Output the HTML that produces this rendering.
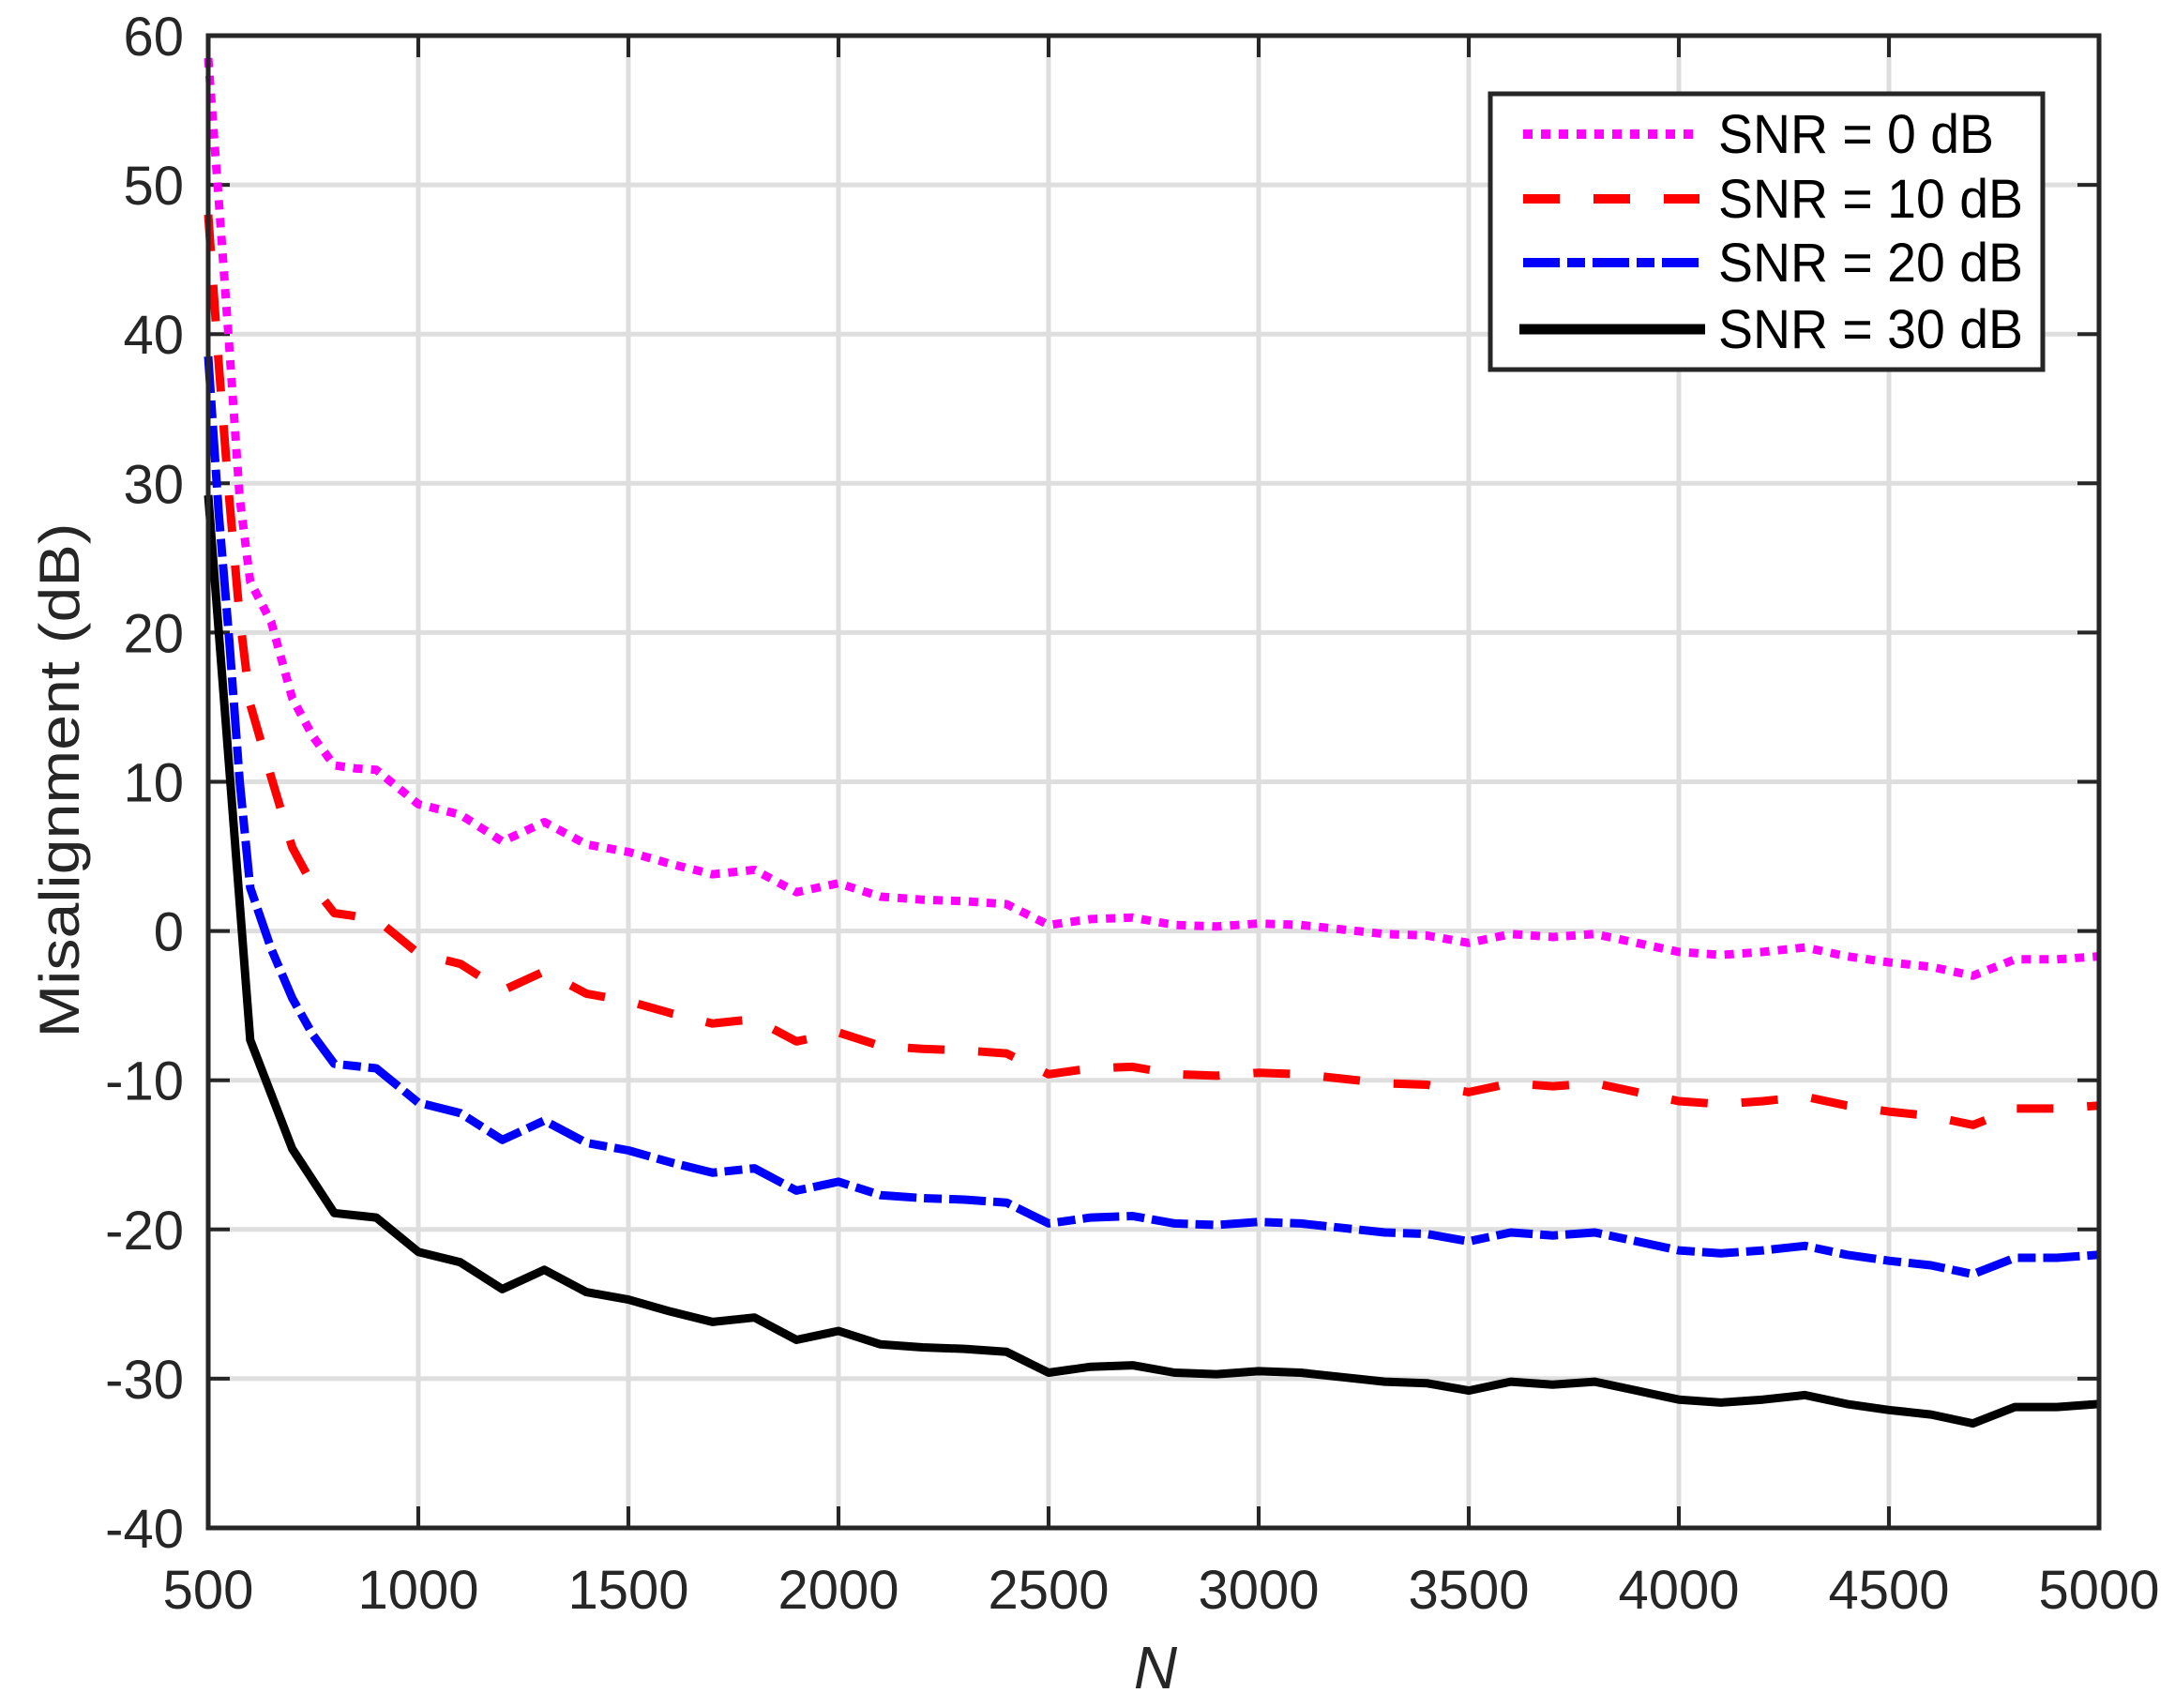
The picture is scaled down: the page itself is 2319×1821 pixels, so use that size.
<!DOCTYPE html>
<html><head><meta charset="utf-8"><style>
html,body{margin:0;padding:0;background:#fff;}
svg{display:block;font-family:"Liberation Sans",sans-serif;}
</style></head><body>
<svg id="s" width="2319" height="1821" viewBox="0 0 2319 1821" xmlns="http://www.w3.org/2000/svg">
<rect width="2319" height="1821" fill="#fff"/>
<g id="grid" stroke="#dedede" stroke-width="5"></g>
<g id="ticks" stroke="#262626" stroke-width="4"></g>
<g id="labels" fill="#262626" font-size="58"></g>
<g id="series" fill="none" stroke-linejoin="round"></g>
<rect x="222" y="38" width="2016" height="1591" fill="none" stroke="#262626" stroke-width="5"/>
<text x="1232" y="1800" font-size="64" font-style="italic" text-anchor="middle" fill="#262626">N</text>
<text transform="translate(84,832) rotate(-90)" font-size="60" text-anchor="middle" fill="#262626" textLength="549" lengthAdjust="spacingAndGlyphs">Misalignment (dB)</text>
<g>
<rect x="1589" y="100" width="589" height="294" fill="#fff" stroke="#262626" stroke-width="5"/>
<line x1="1624" y1="143" x2="1812" y2="143" stroke="#ff00ff" stroke-width="10" stroke-dasharray="10 9"/>
<line x1="1624" y1="212" x2="1812" y2="212" stroke="#ff0000" stroke-width="10" stroke-dasharray="39 36"/>
<line x1="1624" y1="280" x2="1812" y2="280" stroke="#0000ff" stroke-width="10" stroke-dasharray="39 8 19 8"/>
<line x1="1620" y1="351" x2="1818" y2="351" stroke="#000" stroke-width="11"/>
<g font-size="58" fill="#000">
<text x="1832" y="163" textLength="294" lengthAdjust="spacingAndGlyphs">SNR = 0 dB</text>
<text x="1832" y="232" textLength="325" lengthAdjust="spacingAndGlyphs">SNR = 10 dB</text>
<text x="1832" y="300" textLength="325" lengthAdjust="spacingAndGlyphs">SNR = 20 dB</text>
<text x="1832" y="371" textLength="325" lengthAdjust="spacingAndGlyphs">SNR = 30 dB</text>
</g>
</g>
</svg>
<script>
var NS="http://www.w3.org/2000/svg";
function X(n){return 222+(n-500)*0.448;}
function Y(v){return 38+(60-v)*15.91;}
function el(p,t,a,txt){var e=document.createElementNS(NS,t);for(var k in a)e.setAttribute(k,a[k]);if(txt!=null)e.textContent=txt;document.getElementById(p).appendChild(e);}
for(var n=1000;n<5000;n+=500){el('grid','line',{x1:X(n),y1:38,x2:X(n),y2:1629});}
for(var v=-30;v<60;v+=10){el('grid','line',{x1:222,y1:Y(v),x2:2238,y2:Y(v)});}
for(var n=500;n<=5000;n+=500){var x=X(n);
 el('ticks','line',{x1:x,y1:1629,x2:x,y2:1606});el('ticks','line',{x1:x,y1:38,x2:x,y2:61});
 el('labels','text',{x:x,y:1715,'text-anchor':'middle'},String(n));}
for(var v=-40;v<=60;v+=10){var y=Y(v);
 el('ticks','line',{x1:222,y1:y,x2:245,y2:y});el('ticks','line',{x1:2238,y1:y,x2:2215,y2:y});
 el('labels','text',{x:196,y:y+21,'text-anchor':'end'},String(v));}
var blk=[29.2,-7.3,-14.6,-18.9,-19.2,-21.5,-22.2,-24.0,-22.7,-24.2,-24.7,-25.5,-26.2,-25.9,-27.4,-26.8,-27.7,-27.9,-28.0,-28.2,-29.6,-29.2,-29.1,-29.6,-29.7,-29.5,-29.6,-29.9,-30.2,-30.3,-30.8,-30.2,-30.4,-30.2,-30.8,-31.4,-31.6,-31.4,-31.1,-31.7,-32.1,-32.4,-33.0,-31.9,-31.9,-31.7];
function pts(off,early){var a=[];for(var i=0;i<blk.length;i++){var n=500+100*i;a.push([n,blk[i]+off]);}
 a=a.filter(function(p){return p[0]>=early.min;});return early.pts.concat(a);}
var mag=pts(30,{min:900,pts:[[500,58.5],[525,49],[550,39.2],[575,29],[600,23.4],[650,20.7],[700,15.6],[750,13],[800,11.1],[850,10.9]]});
var red=pts(20,{min:900,pts:[[500,48],[525,38],[550,29],[575,21],[600,15.2],[650,10.3],[700,5.6],[750,3],[800,1.2]]});
var blu=pts(10,{min:900,pts:[[500,38.5],[525,28],[550,19.5],[575,10],[600,2.9],[650,-1.2],[700,-4.5],[750,-7],[800,-8.9]]});
var blkp=blk.map(function(v,i){return [500+100*i,v];});
function path(a){return a.map(function(p,i){return (i?'L':'M')+X(p[0]).toFixed(1)+' '+Y(p[1]).toFixed(1);}).join('');}
el('series','path',{d:path(mag),stroke:'#ff00ff','stroke-width':9,'stroke-dasharray':'10 9'});
el('series','path',{d:path(red),stroke:'#ff0000','stroke-width':9,'stroke-dasharray':'39 36'});
el('series','path',{d:path(blu),stroke:'#0000ff','stroke-width':9,'stroke-dasharray':'39 8 19 8'});
el('series','path',{d:path(blkp),stroke:'#000','stroke-width':9});
</script>
</body></html>
